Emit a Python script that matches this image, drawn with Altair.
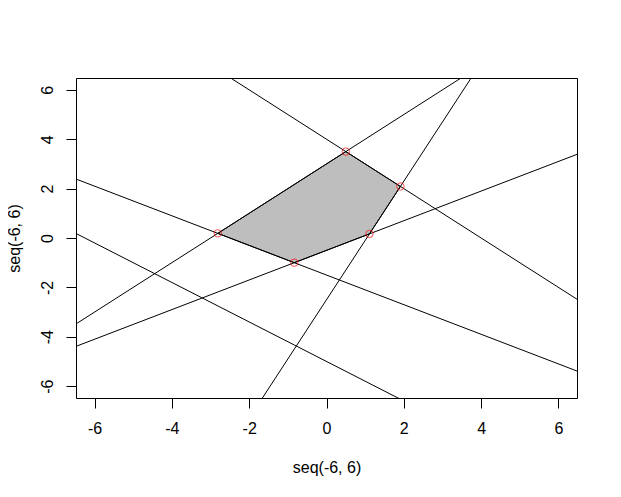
import altair as alt
import pandas as pd

# Lines y = slope * x + intercept
slopes = [-1.0, 1.0, -0.6, 0.6, 2.4, -0.8]
intercepts = [4.0, 3.0, -1.5, -0.5, -2.5, -5.0]

# Polygon vertices (feasible region), in drawing order
vx = [-2.8125, 0.5, 1.912, 1.111, -0.833]
vy = [0.1875, 3.5, 2.088, 0.167, -1.0]

ticks = [-6, -4, -2, 0, 2, 4, 6]
lo, hi = -6.48, 6.48

rows = []
for i, (m, b) in enumerate(zip(slopes, intercepts)):
    for xx in (lo, hi):
        rows.append({"line": i, "x": xx, "y": m * xx + b})
lines_df = pd.DataFrame(rows)

poly_df = pd.DataFrame({"x": vx + [vx[0]], "y": vy + [vy[0]], "o": list(range(len(vx) + 1))})
pts_df = pd.DataFrame({"x": vx, "y": vy})

xscale = alt.Scale(domain=[lo, hi], nice=False, zero=False)
yscale = alt.Scale(domain=[lo, hi], nice=False, zero=False)

font = "Liberation Sans"
FS = 16
lab = "'' + datum.value"
xaxis = alt.Axis(values=ticks, grid=False, domain=False, tickSize=10, tickColor="black",
                 labelFont=font, labelFontSize=FS, labelColor="black", labelPadding=12.5,
                 labelBaseline="top", labelFlush=False, labelExpr=lab, title="seq(-6, 6)",
                 titleFont=font, titleFontSize=FS, titleFontWeight="normal", titleColor="black",
                 titleY=69, titleBaseline="middle")
yaxis = alt.Axis(values=ticks, grid=False, domain=False, tickSize=10, tickColor="black",
                 labelFont=font, labelFontSize=FS, labelColor="black", labelPadding=13.5,
                 labelAngle=270, labelAlign="center", labelBaseline="alphabetic", labelFlush=False,
                 labelExpr=lab, title="seq(-6, 6)", titleFont=font, titleFontSize=FS,
                 titleFontWeight="normal", titleColor="black", titleAngle=270, titleX=-62,
                 titleBaseline="middle")

poly = alt.Chart(poly_df).mark_line(fill="#BEBEBE", stroke="black", strokeWidth=1).encode(
    x=alt.X("x:Q", scale=xscale, axis=xaxis),
    y=alt.Y("y:Q", scale=yscale, axis=yaxis),
    order="o:Q",
)

lines = alt.Chart(lines_df).mark_line(color="black", strokeWidth=1, clip=True).encode(
    x=alt.X("x:Q", scale=xscale),
    y=alt.Y("y:Q", scale=yscale),
    detail="line:N",
)

pts = alt.Chart(pts_df).mark_point(shape="circle", color="red", size=55, strokeWidth=1, filled=False).encode(
    x=alt.X("x:Q", scale=xscale),
    y=alt.Y("y:Q", scale=yscale),
)

chart = alt.layer(poly, lines, pts).properties(
    width=501, height=320,
    autosize=alt.AutoSizeParams(type="none"),
    padding={"left": 68, "top": 70, "right": 34, "bottom": 88},
).configure(
    background="white",
    view=alt.ViewConfig(stroke="black", strokeWidth=1),
)

chart.save("out.html", embed_options={"renderer": "svg", "actions": False})
